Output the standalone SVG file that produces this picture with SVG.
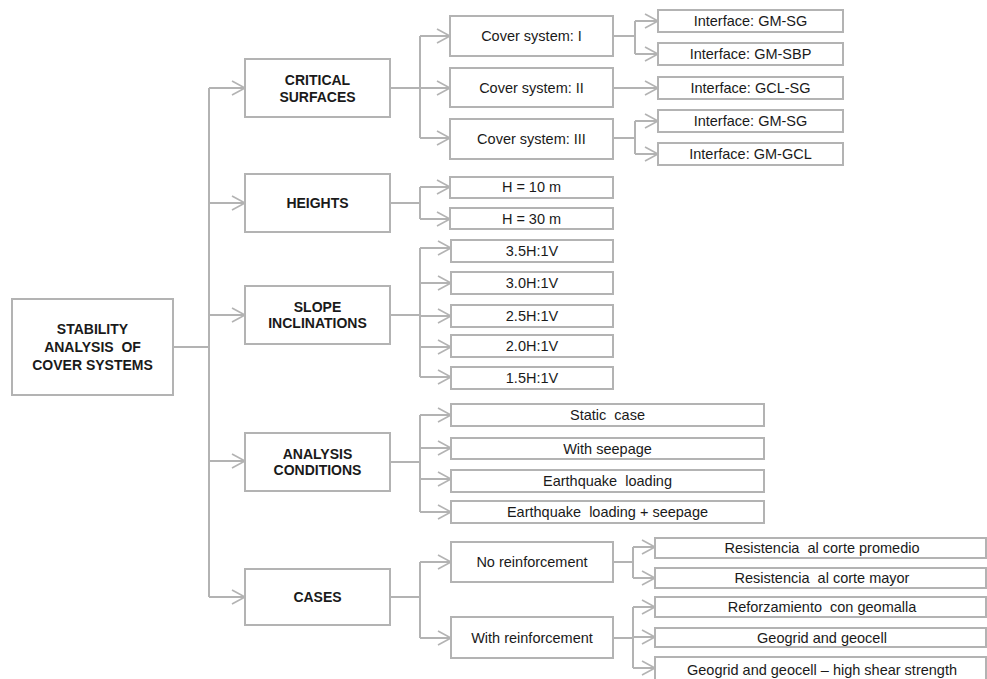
<svg xmlns="http://www.w3.org/2000/svg" width="987" height="679" viewBox="0 0 987 679">
<style>
rect{fill:#fff;stroke:#b3b3b3;stroke-width:2}
.c{fill:none;stroke:#b3b3b3;stroke-width:2}
text{font-family:"Liberation Sans",Arial,sans-serif;fill:#1a1a1a;text-anchor:middle;white-space:pre}
.b{font-weight:bold;font-size:14px}
.r{font-size:14.5px}
</style>
<defs>
<marker id="a" markerUnits="userSpaceOnUse" markerWidth="16" markerHeight="16" refX="13" refY="7" orient="auto" overflow="visible">
<path d="M0,0 L13,7 L0,14" fill="none" stroke="#b3b3b3" stroke-width="1.6"/>
</marker>
</defs>
<rect width="987" height="679" style="fill:#fff;stroke:none"/>
<g id="connectors">
<path class="c" d="M173,347H209M209,88V597"/>
<path class="c" marker-end="url(#a)" d="M209,88H245"/>
<path class="c" marker-end="url(#a)" d="M209,203H245"/>
<path class="c" marker-end="url(#a)" d="M209,315H245"/>
<path class="c" marker-end="url(#a)" d="M209,461H245"/>
<path class="c" marker-end="url(#a)" d="M209,597H245"/>
<path class="c" d="M390,88H420M420,36V138"/>
<path class="c" marker-end="url(#a)" d="M420,36H450"/>
<path class="c" marker-end="url(#a)" d="M420,88H450"/>
<path class="c" marker-end="url(#a)" d="M420,138H450"/>
<path class="c" d="M613,36H635M635,21V54"/>
<path class="c" marker-end="url(#a)" d="M635,21H658"/>
<path class="c" marker-end="url(#a)" d="M635,54H658"/>
<path class="c" marker-end="url(#a)" d="M613,88H658"/>
<path class="c" d="M613,138H635M635,121V154"/>
<path class="c" marker-end="url(#a)" d="M635,121H658"/>
<path class="c" marker-end="url(#a)" d="M635,154H658"/>
<path class="c" d="M390,203H420M420,187V219"/>
<path class="c" marker-end="url(#a)" d="M420,187H450"/>
<path class="c" marker-end="url(#a)" d="M420,219H450"/>
<path class="c" d="M390,315H420M420,248V377"/>
<path class="c" marker-end="url(#a)" d="M420,248H451"/>
<path class="c" marker-end="url(#a)" d="M420,283H451"/>
<path class="c" marker-end="url(#a)" d="M420,316H451"/>
<path class="c" marker-end="url(#a)" d="M420,347H451"/>
<path class="c" marker-end="url(#a)" d="M420,377H451"/>
<path class="c" d="M390,462H420M420,415V512"/>
<path class="c" marker-end="url(#a)" d="M420,415H451"/>
<path class="c" marker-end="url(#a)" d="M420,448H451"/>
<path class="c" marker-end="url(#a)" d="M420,479H451"/>
<path class="c" marker-end="url(#a)" d="M420,512H451"/>
<path class="c" d="M390,597H420M420,562V638"/>
<path class="c" marker-end="url(#a)" d="M420,562H451"/>
<path class="c" marker-end="url(#a)" d="M420,638H451"/>
<path class="c" d="M613,562H633M633,547V578"/>
<path class="c" marker-end="url(#a)" d="M633,547H655"/>
<path class="c" marker-end="url(#a)" d="M633,578H655"/>
<path class="c" d="M613,638H633M633,607V668"/>
<path class="c" marker-end="url(#a)" d="M633,607H655"/>
<path class="c" marker-end="url(#a)" d="M633,637H655"/>
<path class="c" marker-end="url(#a)" d="M633,668H655"/>
</g>
<g id="root"><rect x="12" y="299" width="161" height="96"/><text class="b" x="92.5" y="334">STABILITY</text><text class="b" x="92.5" y="352">ANALYSIS  OF</text><text class="b" x="92.5" y="370">COVER SYSTEMS</text></g>
<g id="critical"><rect x="245" y="59" width="145" height="58"/><text class="b" x="317.5" y="85">CRITICAL</text><text class="b" x="317.5" y="102">SURFACES</text></g>
<g id="heights"><rect x="245" y="174" width="145" height="58"/><text class="b" x="317.5" y="208">HEIGHTS</text></g>
<g id="slope"><rect x="245" y="286" width="145" height="58"/><text class="b" x="317.5" y="312">SLOPE</text><text class="b" x="317.5" y="328">INCLINATIONS</text></g>
<g id="analysis"><rect x="245" y="433" width="145" height="58"/><text class="b" x="317.5" y="459">ANALYSIS</text><text class="b" x="317.5" y="475">CONDITIONS</text></g>
<g id="cases"><rect x="245" y="569" width="145" height="56"/><text class="b" x="317.5" y="602">CASES</text></g>
<g id="cs1"><rect x="450" y="16" width="163" height="40"/><text class="r" x="531.5" y="41">Cover system: I</text></g>
<g id="cs2"><rect x="450" y="68" width="163" height="39"/><text class="r" x="531.5" y="93">Cover system: II</text></g>
<g id="cs3"><rect x="450" y="119" width="163" height="40"/><text class="r" x="531.5" y="144">Cover system: III</text></g>
<g id="i1"><rect x="658" y="10" width="185" height="22"/><text class="r" x="750.5" y="26">Interface: GM-SG</text></g>
<g id="i2"><rect x="658" y="43" width="185" height="22"/><text class="r" x="750.5" y="59">Interface: GM-SBP</text></g>
<g id="i3"><rect x="658" y="77" width="185" height="22"/><text class="r" x="750.5" y="93">Interface: GCL-SG</text></g>
<g id="i4"><rect x="658" y="110" width="185" height="22"/><text class="r" x="750.5" y="126">Interface: GM-SG</text></g>
<g id="i5"><rect x="658" y="143" width="185" height="22"/><text class="r" x="750.5" y="159">Interface: GM-GCL</text></g>
<g id="h10"><rect x="450" y="177" width="163" height="21"/><text class="r" x="531.5" y="192">H = 10 m</text></g>
<g id="h30"><rect x="450" y="208" width="163" height="21"/><text class="r" x="531.5" y="224">H = 30 m</text></g>
<g id="s35"><rect x="451" y="240" width="162" height="22"/><text class="r" x="532" y="256">3.5H:1V</text></g>
<g id="s30"><rect x="451" y="272" width="162" height="22"/><text class="r" x="532" y="288">3.0H:1V</text></g>
<g id="s25"><rect x="451" y="305" width="162" height="22"/><text class="r" x="532" y="321">2.5H:1V</text></g>
<g id="s20"><rect x="451" y="335" width="162" height="22"/><text class="r" x="532" y="351">2.0H:1V</text></g>
<g id="s15"><rect x="451" y="367" width="162" height="22"/><text class="r" x="532" y="383">1.5H:1V</text></g>
<g id="static"><rect x="451" y="404" width="313" height="22"/><text class="r" x="607.5" y="420">Static  case</text></g>
<g id="seep"><rect x="451" y="438" width="313" height="21"/><text class="r" x="607.5" y="454">With seepage</text></g>
<g id="eq"><rect x="451" y="470" width="313" height="22"/><text class="r" x="607.5" y="486">Earthquake  loading</text></g>
<g id="eqs"><rect x="451" y="501" width="313" height="22"/><text class="r" x="607.5" y="517">Earthquake  loading + seepage</text></g>
<g id="noreinf"><rect x="451" y="542" width="162" height="40"/><text class="r" x="532" y="567">No reinforcement</text></g>
<g id="reinf"><rect x="451" y="617" width="162" height="41"/><text class="r" x="532" y="643">With reinforcement</text></g>
<g id="l1"><rect x="655" y="538" width="331" height="20"/><text class="r" x="822" y="553">Resistencia  al corte promedio</text></g>
<g id="l2"><rect x="655" y="568" width="331" height="20"/><text class="r" x="822" y="583">Resistencia  al corte mayor</text></g>
<g id="l3"><rect x="655" y="597" width="331" height="20"/><text class="r" x="822" y="612">Reforzamiento  con geomalla</text></g>
<g id="l4"><rect x="655" y="628" width="331" height="19"/><text class="r" x="822" y="643">Geogrid and geocell</text></g>
<g id="l5"><rect x="655" y="657" width="331" height="30"/><text class="r" x="822" y="675">Geogrid and geocell – high shear strength</text></g>
</svg>
